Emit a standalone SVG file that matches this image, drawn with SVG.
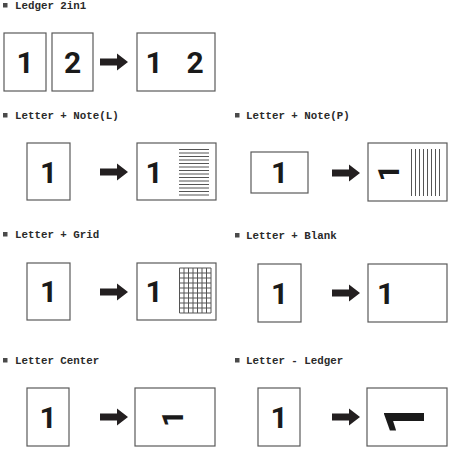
<svg xmlns="http://www.w3.org/2000/svg" width="450" height="452" viewBox="0 0 450 452">
<style>
.bg{fill:#fff}
.page{fill:#fff;stroke:#5a5a5a;stroke-width:1.2}
.title{font-family:"Liberation Mono","Courier New",monospace;font-weight:bold;font-size:10.8px;fill:#2a2a2a}
.bullet{fill:#4a4a4a}
.num{font-family:Roboto,"Liberation Sans",Arial,sans-serif;font-weight:bold;font-size:30px;fill:#1a1a1a;text-anchor:middle}
.big{font-size:56px}
.arrow{fill:#231f20}
.ln{stroke:#555;stroke-width:1;fill:none}
</style>
<defs>
<path id="arr" d="M0,-3.5 H17 V-8.5 L28,0 L17,8.5 V3.5 H0 Z"/>
</defs>
<rect class="bg" width="450" height="452"/>

<g id="titles">
<rect class="bullet" x="3" y="3" width="4.5" height="4.5"/><text class="title" x="15" y="9">Ledger 2in1</text>
<rect class="bullet" x="3" y="113" width="4.5" height="4.5"/><text class="title" x="15" y="119">Letter + Note(L)</text>
<rect class="bullet" x="235" y="113" width="4.5" height="4.5"/><text class="title" x="246" y="119">Letter + Note(P)</text>
<rect class="bullet" x="3" y="232" width="4.5" height="4.5"/><text class="title" x="15" y="238">Letter + Grid</text>
<rect class="bullet" x="235" y="233" width="4.5" height="4.5"/><text class="title" x="246" y="239">Letter + Blank</text>
<rect class="bullet" x="3" y="358" width="4.5" height="4.5"/><text class="title" x="15" y="364">Letter Center</text>
<rect class="bullet" x="235" y="358" width="4.5" height="4.5"/><text class="title" x="246" y="364">Letter - Ledger</text>
</g>

<g id="connectors">
<use href="#arr" class="arrow" transform="translate(100,62)"/>
<use href="#arr" class="arrow" transform="translate(100,172)"/>
<use href="#arr" class="arrow" transform="translate(332,173)"/>
<use href="#arr" class="arrow" transform="translate(100,292)"/>
<use href="#arr" class="arrow" transform="translate(332,293)"/>
<use href="#arr" class="arrow" transform="translate(100,417)"/>
<use href="#arr" class="arrow" transform="translate(332,417)"/>
</g>

<!-- Ledger 2in1 -->
<g id="s1-page1"><rect class="page" x="4" y="33" width="42" height="58"/><text class="num" x="25" y="73">1</text></g>
<g id="s1-page2"><rect class="page" x="52" y="33" width="41" height="58"/><text class="num" x="72.5" y="73">2</text></g>
<g id="s1-result"><rect class="page" x="137" y="33" width="78" height="58"/><text class="num" x="154" y="73">1</text><text class="num" x="195" y="73">2</text></g>

<!-- Letter + Note(L) -->
<g id="s2-page"><rect class="page" x="27" y="143" width="43" height="57"/><text class="num" x="48.5" y="183">1</text></g>
<g id="s2-result"><rect class="page" x="137" y="143" width="79" height="57"/><text class="num" x="154" y="183">1</text>
<path class="ln" d="M179,149.5H209M179,153H209M179,156.5H209M179,160H209M179,163.5H209M179,167H209M179,170.5H209M179,174H209M179,177.5H209M179,181H209M179,184.5H209M179,188H209M179,191.5H209M179,195H209"/></g>

<!-- Letter + Note(P) -->
<g id="s3-page"><rect class="page" x="251" y="152" width="57" height="41"/><text class="num" x="279.5" y="183">1</text></g>
<g id="s3-result"><rect class="page" x="368" y="143" width="79" height="58"/><text class="num" transform="translate(388,173) rotate(-90)" x="0" y="10.5">1</text>
<path class="ln" d="M411.5,149V196M415.5,149V196M419.5,149V196M423.5,149V196M427.5,149V196M431.5,149V196M435.5,149V196M439.5,149V196"/></g>

<!-- Letter + Grid -->
<g id="s4-page"><rect class="page" x="27" y="263" width="43" height="57"/><text class="num" x="48.5" y="302">1</text></g>
<g id="s4-result"><rect class="page" x="137" y="263" width="79" height="57"/><text class="num" x="154" y="302">1</text>
<path class="ln" d="M179.5,268V313M184,268V313M188.5,268V313M193,268V313M197.5,268V313M202,268V313M206.5,268V313M211,268V313M179.5,268H211M179.5,273H211M179.5,278H211M179.5,283H211M179.5,288H211M179.5,293H211M179.5,298H211M179.5,303H211M179.5,308H211M179.5,313H211"/></g>

<!-- Letter + Blank -->
<g id="s5-page"><rect class="page" x="258" y="264" width="43" height="58"/><text class="num" x="279.5" y="303.5">1</text></g>
<g id="s5-result"><rect class="page" x="368" y="264" width="79" height="58"/><text class="num" x="385.5" y="303.5">1</text></g>

<!-- Letter Center -->
<g id="s6-page"><rect class="page" x="27" y="388" width="42" height="58"/><text class="num" x="48" y="427.5">1</text></g>
<g id="s6-result"><rect class="page" x="135" y="388" width="80" height="58"/><text class="num" transform="translate(172,418.5) rotate(-90)" x="0" y="10.5">1</text></g>

<!-- Letter - Ledger -->
<g id="s7-page"><rect class="page" x="258" y="388" width="42" height="58"/><text class="num" x="279" y="427.5">1</text></g>
<g id="s7-result"><rect class="page" x="367" y="388" width="80" height="58"/><text class="num big" transform="translate(404,419) rotate(-90)" x="0" y="20">1</text></g>
</svg>
